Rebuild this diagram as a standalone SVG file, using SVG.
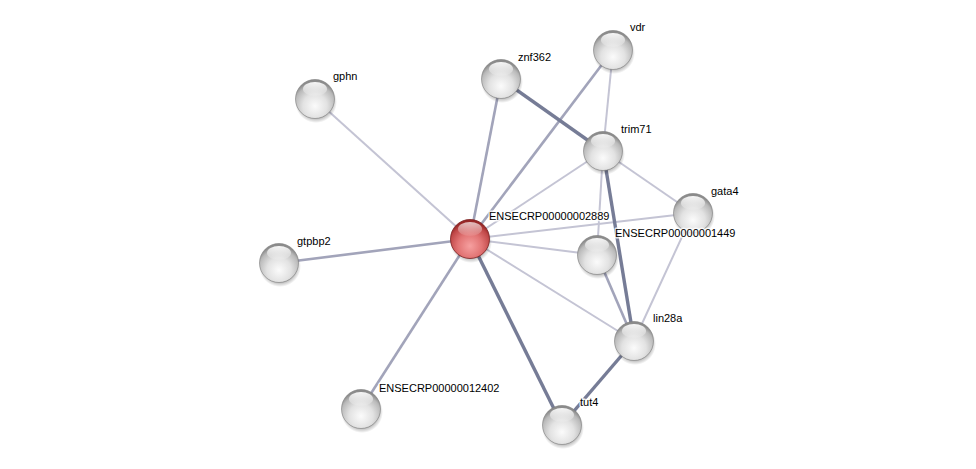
<svg xmlns="http://www.w3.org/2000/svg" width="976" height="469" viewBox="0 0 976 469">
<defs>
<radialGradient id="gg" cx="0.5" cy="0.68" r="0.62">
<stop offset="0" stop-color="#fbfbfb"/>
<stop offset="0.5" stop-color="#e2e2e2"/>
<stop offset="0.85" stop-color="#b9b9b9"/>
<stop offset="1" stop-color="#8c8c8c"/>
</radialGradient>
<radialGradient id="rg" cx="0.5" cy="0.68" r="0.62">
<stop offset="0" stop-color="#f6a0a0"/>
<stop offset="0.5" stop-color="#e27474"/>
<stop offset="0.85" stop-color="#c04848"/>
<stop offset="1" stop-color="#982828"/>
</radialGradient>
<linearGradient id="hl" x1="0" y1="0" x2="0" y2="1">
<stop offset="0" stop-color="#ffffff" stop-opacity="0.95"/>
<stop offset="1" stop-color="#ffffff" stop-opacity="0.1"/>
</linearGradient>
<radialGradient id="sh" cx="0.5" cy="0.5" r="0.5">
<stop offset="0.75" stop-color="#000" stop-opacity="0.3"/>
<stop offset="1" stop-color="#000" stop-opacity="0"/>
</radialGradient>
<g id="sphere">
<circle cx="1" cy="3" r="21" fill="url(#sh)"/>
<circle r="19.5" fill="url(#gg)" stroke="#7a7a7a" stroke-width="0.6"/>
<ellipse cx="0" cy="-10" rx="12" ry="7" fill="url(#hl)"/>
</g>
</defs>
<style>
.e{fill:none;stroke-linecap:butt}
.l{stroke:#c4c4d4;stroke-width:2}
.m{stroke:#a2a4ba;stroke-width:2.6}
.d{stroke:#767c96;stroke-width:3.4}
text{font-family:"Liberation Sans",Arial,sans-serif;font-size:11px;fill:#000;paint-order:stroke;stroke:#ffffff;stroke-width:3px;stroke-opacity:0.8;stroke-linejoin:round}
</style>
<rect width="976" height="469" fill="#ffffff"/>
<g id="edges">
<line class="e l" x1="470" y1="239" x2="315" y2="99"/>
<line class="e m" x1="470" y1="239" x2="279" y2="263"/>
<line class="e m" x1="470" y1="239" x2="361" y2="409"/>
<line class="e d" x1="470" y1="239" x2="562" y2="425"/>
<line class="e m" x1="470" y1="239" x2="501" y2="79"/>
<line class="e m" x1="470" y1="239" x2="613" y2="50"/>
<line class="e l" x1="470" y1="239" x2="603" y2="151"/>
<line class="e l" x1="470" y1="239" x2="693" y2="213"/>
<line class="e l" x1="470" y1="239" x2="597" y2="255"/>
<line class="e l" x1="470" y1="239" x2="634" y2="341"/>
<line class="e d" x1="501" y1="79" x2="603" y2="151"/>
<line class="e l" x1="613" y1="50" x2="603" y2="151"/>
<line class="e l" x1="603" y1="151" x2="693" y2="213"/>
<line class="e d" x1="603" y1="151" x2="634" y2="341"/>
<line class="e l" x1="603" y1="151" x2="597" y2="255"/>
<line class="e l" x1="693" y1="213" x2="634" y2="341"/>
<line class="e m" x1="597" y1="255" x2="634" y2="341"/>
<line class="e d" x1="634" y1="341" x2="562" y2="425"/>
</g>
<g id="gphn"><use href="#sphere" x="315" y="99"/><text x="333" y="80">gphn</text></g>
<g id="znf362"><use href="#sphere" x="501" y="79"/><text x="518" y="61">znf362</text></g>
<g id="vdr"><use href="#sphere" x="613" y="50"/><text x="630" y="31">vdr</text></g>
<g id="trim71"><use href="#sphere" x="603" y="151"/><text x="621" y="133">trim71</text></g>
<g id="gata4"><use href="#sphere" x="693" y="213"/><text x="711" y="195">gata4</text></g>
<g id="ENSECRP00000001449"><use href="#sphere" x="597" y="255"/><text x="615" y="237">ENSECRP00000001449</text></g>
<g id="gtpbp2"><use href="#sphere" x="279" y="263"/><text x="297" y="245">gtpbp2</text></g>
<g id="lin28a"><use href="#sphere" x="634" y="341"/><text x="653" y="322">lin28a</text></g>
<g id="ENSECRP00000012402"><use href="#sphere" x="361" y="409"/><text x="379" y="392">ENSECRP00000012402</text></g>
<g id="tut4"><use href="#sphere" x="562" y="425"/><text x="580" y="406">tut4</text></g>
<g id="ENSECRP00000002889">
<circle cx="471" cy="242" r="21" fill="url(#sh)"/>
<circle cx="470" cy="239" r="19.5" fill="url(#rg)" stroke="#7a2020" stroke-width="0.8"/>
<ellipse cx="470" cy="229" rx="12" ry="7" fill="url(#hl)" opacity="0.75"/>
<text x="489" y="220">ENSECRP00000002889</text>
</g>
</svg>
